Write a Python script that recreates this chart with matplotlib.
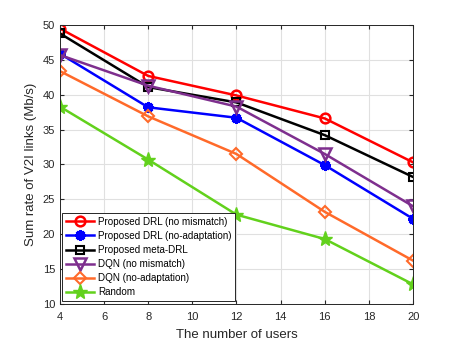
import numpy as np
import matplotlib.pyplot as plt

plt.rcParams['font.family'] = ['Liberation Sans', 'DejaVu Sans']

users = [4, 8, 12, 16, 20]
drl_no_mismatch = [49.5, 42.7, 39.9, 36.6, 30.3]
drl_no_adapt = [45.9, 38.2, 36.7, 29.9, 22.2]
meta_drl = [48.8, 41.1, 38.9, 34.2, 28.2]
dqn_no_mismatch = [45.7, 41.3, 38.3, 31.5, 24.0]
dqn_no_adapt = [43.4, 36.9, 31.5, 23.2, 16.2]
random_sel = [38.3, 30.7, 22.8, 19.3, 12.8]

labels = ['Proposed DRL (no mismatch)', 'Proposed DRL (no-adaptation)',
          'Proposed meta-DRL', 'DQN (no mismatch)', 'DQN (no-adaptation)', 'Random']

fig = plt.figure(figsize=(4.57, 3.43), dpi=100)
ax = fig.add_axes([0.131, 0.114, 0.773, 0.813])

ax.plot(users, drl_no_mismatch, color='#ff0000', lw=1.8, marker='o', ms=7,
        mfc='none', mew=1.8, label=labels[0])
ax.plot(users, drl_no_adapt, color='#0000ff', lw=1.8, marker=(8, 2, 0), ms=7.5,
        mew=2.2, label=labels[1])
ax.plot(users, meta_drl, color='black', lw=1.8, marker='s', ms=5.5,
        mfc='none', mew=1.5, label=labels[2])
ax.plot(users, dqn_no_mismatch, color='#7e2f8e', lw=1.8, marker='v', ms=8,
        mfc='none', mew=1.8, label=labels[3])
ax.plot(users, dqn_no_adapt, color='#ff6a2a', lw=1.8, marker='D', ms=6,
        mfc='none', mew=1.5, label=labels[4])
ax.plot(users, random_sel, color='#62d11c', lw=1.8, marker='*', ms=11,
        mew=1, label=labels[5])

ax.set_xlim(4, 20)
ax.set_ylim(10, 50)
ax.set_xticks(np.arange(4, 21, 2))
ax.set_yticks(np.arange(10, 51, 5))
ax.tick_params(direction='in', labelsize=8, colors='#262626', length=3,
               top=True, right=True)
ax.tick_params(axis='x', pad=6)
ax.grid(True, color='#e0e0e0', lw=0.8)
ax.set_axisbelow(True)
for s in ax.spines.values():
    s.set_color('#262626')
    s.set_linewidth(0.7)

ax.set_xlabel('The number of users', fontsize=9.5, color='#262626', labelpad=5)
ax.set_ylabel('Sum rate of V2I links (Mb/s)', fontsize=9.5, color='#262626')

leg = ax.legend(loc='lower left', bbox_to_anchor=(0.0, 0.0), fontsize=7.1,
                fancybox=False, edgecolor='#262626', framealpha=1,
                handlelength=2.8, borderpad=0.4, labelspacing=0.42,
                handletextpad=0.4, borderaxespad=0.25)
leg.get_frame().set_linewidth(0.7)

fig.savefig('out.png', dpi=100)
